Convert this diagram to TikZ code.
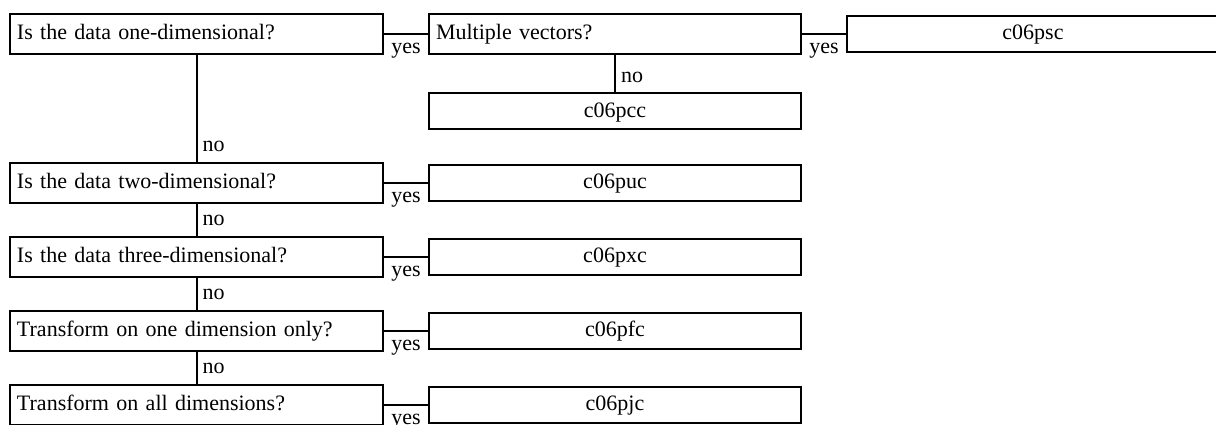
\documentclass[tikz,border=0pt]{standalone}
\usepackage{fontspec}
\setmainfont{Liberation Serif}[WordSpace=2.2]

\begin{document}
\begin{tikzpicture}[x=0.5pt, y=-0.5pt,
        font=\fontsize{11}{13}\selectfont,
        every node/.style={outer sep=0pt},
        question/.style={draw, line width=1pt, minimum width=186.5pt, minimum height=20pt,
            inner xsep=3.5pt, text width=179.5pt, align=left, text height=7pt, text depth=1pt},
        outcome/.style={draw, line width=1pt, minimum width=186pt, minimum height=18pt,
            text height=7pt, text depth=1pt},
        yeslabel/.style={anchor=base, inner sep=0pt, yshift=-9.75pt},
        nolabel/.style={pos=1, anchor=base west, inner sep=0pt, xshift=3pt, yshift=5.5pt}]
            \useasboundingbox (0, 0) rectangle (1216, 424);

            \node[question] (q1) at (196.5, 33.5) {Is the data one-dimensional?};
            \node[question] (q2) at (196.5, 182.5) {Is the data two-dimensional?};
            \node[question] (q3) at (196.5, 256.5) {Is the data three-dimensional?};
            \node[question] (q4) at (196.5, 330.5) {Transform on one dimension only?};
            \node[question] (q5) at (196.5, 404.5) {Transform on all dimensions?};

            \node[question, minimum width=186pt, text width=179pt] (m1) at (615, 33.5) {Multiple vectors?};

            \node[outcome] (c1) at (1033, 33.5) {c06psc};
            \node[outcome] (c2) at (615, 111) {c06pcc};
            \node[outcome] (c3) at (615, 182.5) {c06puc};
            \node[outcome] (c4) at (615, 256.5) {c06pxc};
            \node[outcome] (c5) at (615, 330.5) {c06pfc};
            \node[outcome] (c6) at (615, 404.5) {c06pjc};

            \draw[line width=1pt] (q1) -- node[yeslabel] {yes} (m1);
            \draw[line width=1pt] (m1) -- node[yeslabel] {yes} (c1);
            \draw[line width=1pt] (m1) -- node[nolabel] {no} (c2);
            \draw[line width=1pt] (q1) -- node[nolabel] {no} (q2);
            \draw[line width=1pt] (q2) -- node[yeslabel] {yes} (c3);
            \draw[line width=1pt] (q2) -- node[nolabel] {no} (q3);
            \draw[line width=1pt] (q3) -- node[yeslabel] {yes} (c4);
            \draw[line width=1pt] (q3) -- node[nolabel] {no} (q4);
            \draw[line width=1pt] (q4) -- node[yeslabel] {yes} (c5);
            \draw[line width=1pt] (q4) -- node[nolabel] {no} (q5);
            \draw[line width=1pt] (q5) -- node[yeslabel] {yes} (c6);
        \end{tikzpicture}
\end{document}
